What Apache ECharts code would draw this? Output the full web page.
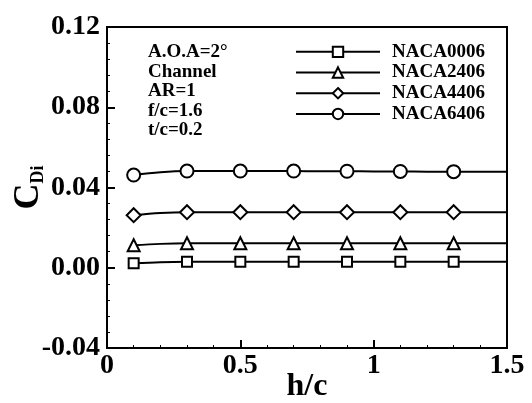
<!DOCTYPE html>
<html>
<head>
<meta charset="utf-8">
<script src="https://cdn.jsdelivr.net/npm/echarts@6/dist/echarts.min.js"></script>
<style>
  html, body { margin: 0; padding: 0; background: #fff; }
  #chart { width: 532px; height: 403px; }
</style>
</head>
<body>
<div id="chart"></div>
<script>
// h/c positions along the channel height
const hc = [0.1, 0.2, 0.3, 0.4, 0.5, 0.6, 0.7, 0.8, 0.9, 1.0, 1.1, 1.2, 1.3, 1.4, 1.5];

// Induced drag coefficient C_Di for each airfoil
const naca0006 = [0.0022, 0.0028, 0.0030, 0.0030, 0.0030, 0.0030, 0.0030, 0.0030, 0.0030, 0.0030, 0.0030, 0.0030, 0.0030, 0.0030, 0.0030];
const naca2406 = [0.0112, 0.0119, 0.0122, 0.0122, 0.0122, 0.0122, 0.0122, 0.0122, 0.0122, 0.0122, 0.0122, 0.0122, 0.0122, 0.0122, 0.0122];
const naca4406 = [0.0262, 0.0273, 0.0277, 0.0277, 0.0277, 0.0277, 0.0277, 0.0277, 0.0277, 0.0277, 0.0277, 0.0277, 0.0277, 0.0277, 0.0277];
const naca6406 = [0.0462, 0.0476, 0.0482, 0.0482, 0.0482, 0.0482, 0.0482, 0.0481, 0.0481, 0.0480, 0.0480, 0.0479, 0.0479, 0.0478, 0.0478];

const seriesNames = ['NACA0006', 'NACA2406', 'NACA4406', 'NACA6406'];
const xTicks = { min: 0, max: 1.5, step: 0.5 };
const yTicks = { min: -0.04, max: 0.12, step: 0.04 };
const notes = ['A.O.A=2°', 'Channel', 'AR=1', 'f/c=1.6', 't/c=0.2'];

const FONT = '"Liberation Serif", "Times New Roman", serif';

function pairs(ys) { return hc.map((x, i) => [x, ys[i]]); }

// markers on every other point, none on the last one
function markerSize(size) {
  return function (val, params) {
    const i = params.dataIndex;
    return (i % 2 === 0 && i < hc.length - 1) ? size : 0;
  };
}

function makeSeries(name, ys, symbol, size) {
  return {
    name: name,
    type: 'line',
    data: pairs(ys),
    smooth: 0.35,
    symbol: symbol,
    symbolSize: markerSize(size),
    showAllSymbol: true,
    lineStyle: { color: '#000', width: 2 },
    itemStyle: { color: '#000', borderColor: '#000', borderWidth: 2 },
    emphasis: { disabled: true },
    animation: false
  };
}

const chart = echarts.init(document.getElementById('chart'), null, { renderer: 'canvas' });

const noteGraphics = notes.map((t, i) => ({
  type: 'text',
  left: 148,
  top: 43 + i * 19.4,
  style: { text: t, font: 'bold 19px ' + FONT, fill: '#000' }
}));

const tickFont = { fontFamily: FONT, fontWeight: 'bold', fontSize: 28, color: '#000' };

chart.setOption({
  backgroundColor: '#fff',
  animation: false,
  grid: {
    left: 107, right: 25, top: 27, bottom: 55,
    outerBoundsMode: 'none',
    containLabel: false,
    show: true, borderColor: '#000', borderWidth: 2, backgroundColor: 'transparent'
  },
  legend: {
    orient: 'vertical',
    left: 295,
    top: 41.5,
    padding: 0,
    itemWidth: 84,
    itemHeight: 13,
    itemGap: 0,
    data: seriesNames,
    textStyle: { fontFamily: FONT, fontWeight: 'bold', fontSize: 19, lineHeight: 20.7, color: '#000', padding: [0, 0, 0, 7] },
    selectedMode: false
  },
  xAxis: {
    type: 'value',
    min: xTicks.min, max: xTicks.max, interval: xTicks.step,
    name: 'h/c',
    nameLocation: 'middle',
    nameGap: 23,
    nameMoveOverlap: false,
    nameTextStyle: { fontFamily: FONT, fontWeight: 'bold', fontSize: 32, color: '#000' },
    axisLine: { onZero: false, lineStyle: { color: '#000', width: 2 } },
    axisTick: { inside: true, length: 8, lineStyle: { color: '#000', width: 2 } },
    minorTick: { show: true, splitNumber: 5, length: 3, lineStyle: { color: '#000', width: 1 } },
    splitLine: { show: false },
    axisLabel: Object.assign({ margin: 4, formatter: v => String(v) }, tickFont)
  },
  yAxis: {
    type: 'value',
    min: yTicks.min, max: yTicks.max, interval: yTicks.step,
    name: '{c|C}{s|Di}',
    nameLocation: 'middle',
    nameRotate: 90,
    nameGap: 60,
    nameMoveOverlap: false,
    nameTextStyle: {
      rich: {
        c: { fontFamily: FONT, fontWeight: 'bold', fontSize: 36, color: '#000' },
        s: { fontFamily: FONT, fontWeight: 'bold', fontSize: 18, color: '#000', verticalAlign: 'bottom', padding: [14, 0, 0, 0] }
      }
    },
    axisLine: { onZero: false, lineStyle: { color: '#000', width: 2 } },
    axisTick: { inside: true, length: 8, lineStyle: { color: '#000', width: 2 } },
    minorTick: { show: true, splitNumber: 5, length: 3, lineStyle: { color: '#000', width: 1 } },
    splitLine: { show: false },
    axisLabel: Object.assign({ margin: 7, formatter: v => v.toFixed(2) }, tickFont)
  },
  graphic: noteGraphics,
  series: [
    makeSeries(seriesNames[0], naca0006, 'emptyRect', 10),
    makeSeries(seriesNames[1], naca2406, 'emptyTriangle', 12),
    makeSeries(seriesNames[2], naca4406, 'emptyDiamond', 14),
    makeSeries(seriesNames[3], naca6406, 'emptyCircle', 13)
  ]
});
</script>
</body>
</html>
